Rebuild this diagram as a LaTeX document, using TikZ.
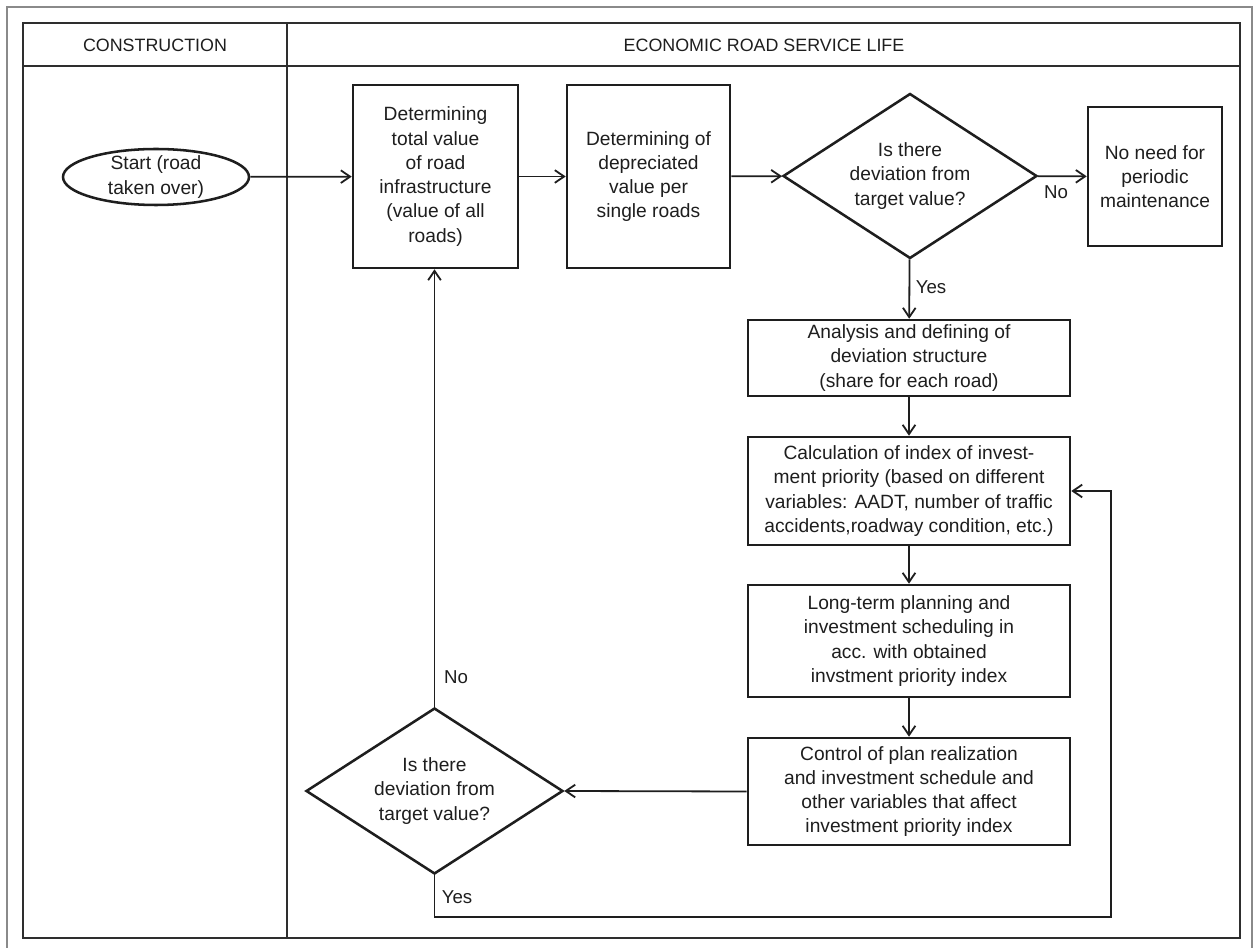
\documentclass[tikz,border=0pt]{standalone}
\usepackage{fontspec}
\setmainfont{Liberation Sans}
\usetikzlibrary{shapes.geometric,arrows.meta}
\definecolor{ink}{HTML}{1E1E1E}
\definecolor{frame}{HTML}{2E2E2E}
\definecolor{outer}{HTML}{8A8A8A}
\begin{document}
\begin{tikzpicture}[x=0.75pt,y=-0.75pt,
  txt/.style={font=\fontsize{14.4pt}{18.2pt}\selectfont, text=ink, align=center, inner sep=0pt},
  head/.style={font=\fontsize{13.4pt}{16pt}\selectfont, text=ink, inner sep=0pt},
  lbl/.style={font=\fontsize{14pt}{16pt}\selectfont, text=ink, inner sep=0pt},
  box/.style={draw=ink, line width=1.9pt, rectangle, inner sep=0pt, align=center,
              font=\fontsize{14.4pt}{18.2pt}\selectfont, text=ink},
  dec/.style={draw=ink, line width=1.9pt, diamond, inner sep=0pt},
  term/.style={draw=ink, line width=1.9pt, ellipse, inner sep=0pt},
  conn/.style={draw=ink, line width=1.35pt, -{Straight Barb[length=7pt,width=9.5pt,line width=1.35pt]}},
  plain/.style={draw=ink, line width=1.35pt}
]
\useasboundingbox (0,0) rectangle (1258,948);
\fill[white] (0,0) rectangle (1258,948);

% frames
\draw[outer, line width=1.3pt] (7,952) -- (7,7) -- (1252,7) -- (1252,952);
\draw[frame, line width=1.8pt] (23,23) rectangle (1240,938);
\draw[frame, line width=1.8pt] (23,66) -- (1240,66);
\draw[frame, line width=1.4pt] (287,23) -- (287,938);

\node[head] (h1) at (155,45) {CONSTRUCTION};
\node[head] (h2) at (764,45) {ECONOMIC ROAD SERVICE LIFE};

% nodes
\node[term, minimum width=139.5pt, minimum height=42pt] (start) at (156,177) {};
\node[txt] (starttxt) at (start) {Start (road\\taken over)};

\node[box, minimum width=123.75pt, minimum height=137.25pt] (b1) at (435.5,176.5)
  {Determining\\total value\\of road\\infrastructure\\(value of all\\roads)};
\node[box, minimum width=122.25pt, minimum height=137.25pt] (b2) at (648.5,176.5)
  {Determining of\\depreciated\\value per\\single roads};

\node[dec, minimum width=190.5pt, minimum height=123.75pt] (d1) at (910,176) {};
\node[txt] (d1txt) at (d1) {Is there\\deviation from\\target value?};

\node[box, minimum width=100.5pt, minimum height=104.25pt] (nn) at (1155,176.5)
  {No need for\\periodic\\maintenance};

\node[box, minimum width=241.5pt, minimum height=57pt] (ba) at (909,358)
  {Analysis and defining of\\deviation structure\\(share for each road)};
\node[box, minimum width=241.5pt, minimum height=81pt] (bb) at (909,491)
  {Calculation of index of invest-\\ment priority (based on different\\variables: AADT, number of traffic\\accidents,roadway condition, etc.)};
\node[box, minimum width=241.5pt, minimum height=84pt] (bc) at (909,641)
  {Long-term planning and\\investment scheduling in\\acc. with obtained\\invstment priority index};
\node[box, minimum width=241.5pt, minimum height=80.25pt] (bd) at (909,791.5)
  {Control of plan realization\\and investment schedule and\\other variables that affect\\investment priority index};

\node[dec, minimum width=192.75pt, minimum height=124.5pt] (d2) at (434.5,791) {};
\node[txt] (d2txt) at (d2) {Is there\\deviation from\\target value?};

\coordinate (c1) at (1111,917);

% connectors
\draw[conn] (start) -- (b1);
\draw[conn] (b1) -- (b2);
\draw[conn] (b2) -- (d1);
\draw[conn] (d1) -- (nn);
\draw[conn] (d1) -- (ba);
\draw[conn] (ba) -- (bb);
\draw[conn] (bb) -- (bc);
\draw[conn] (bc) -- (bd);
\draw[conn] (bd.west) -- (d2.east);
\draw[conn] (d2.north) -- (d2.north |- b1.south);
\draw[conn] (d2.south) |- (c1) |- (bb.east);

% labels
\node[lbl] (lno1) at (1056,192) {No};
\node[lbl] (lyes1) at (931,287) {Yes};
\node[lbl] (lno2) at (456,677) {No};
\node[lbl] (lyes2) at (457,897) {Yes};
\end{tikzpicture}
\end{document}
